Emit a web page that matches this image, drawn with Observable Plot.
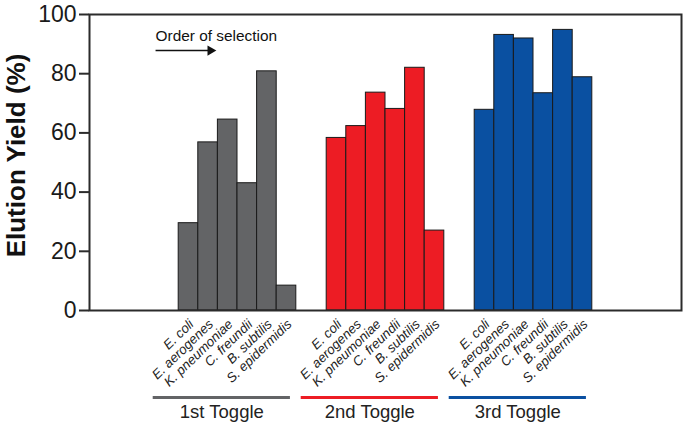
<!DOCTYPE html>
<html>
<head>
<meta charset="utf-8">
<script src="https://cdn.jsdelivr.net/npm/d3@7"></script>
<script src="https://cdn.jsdelivr.net/npm/@observablehq/plot@0.6"></script>
<style>
  html, body { margin: 0; padding: 0; background: #fff; }
  #chart { width: 685px; height: 425px; }
</style>
</head>
<body>
<div id="chart"></div>
<script>
// ---- data ----
const groups = ["1st Toggle", "2nd Toggle", "3rd Toggle"];
const species = ["E. coli", "E. aerogenes", "K. pneumoniae", "C. freundii", "B. subtilis", "S. epidermidis"];
const toggle1 = [29.5, 56.8, 64.5, 43.0, 80.8, 8.4];
const toggle2 = [58.3, 62.3, 73.6, 68.1, 82.0, 27.0];
const toggle3 = [67.8, 93.1, 91.9, 73.4, 94.8, 78.8];
const groupColors = ["#636466", "#ed1c24", "#0a50a1"];
const yTicks = [0, 20, 40, 60, 80, 100];
const annotation = "Order of selection";

// ---- layout helpers (in bar-width units) ----
const groupGap = 1.55;     // gap between groups
const sideGap = 4.55;      // empty space at left/right of frame
const perGroup = species.length;
const groupStart = g => g * (perGroup + groupGap);

const series = [toggle1, toggle2, toggle3];
const bars = [];
series.forEach((vals, g) => vals.forEach((v, i) => bars.push({
  group: groups[g], species: species[i], value: v,
  x1: groupStart(g) + i, x2: groupStart(g) + i + 1, xc: groupStart(g) + i + 0.5
})));
const groupInfo = groups.map((name, g) => ({
  name, x1: groupStart(g) - 1.3, x2: groupStart(g) + 5.7
}));
const xMax = groupStart(groups.length - 1) + perGroup + sideGap;

// arrow annotation in data units
const arrowData = [{x1: -1.18, x2: 1.62, y: 87.8}];

const plot = Plot.plot({
  width: 685,
  height: 425,
  marginLeft: 89,
  marginRight: 4,
  marginTop: 14,
  marginBottom: 115,
  style: {fontFamily: "'Liberation Sans', Arial, sans-serif", color: "#222", background: "#fff"},
  x: {domain: [-sideGap, xMax], axis: null},
  y: {domain: [0, 100], axis: null},
  color: {domain: groups, range: groupColors},
  marks: [
    Plot.rectY(bars, {x1: "x1", x2: "x2", y: "value", fill: "group", stroke: "#1a1a1a", strokeWidth: 1}),
    Plot.frame({stroke: "#2b2b2b", strokeWidth: 2}),
    Plot.axisY({ticks: yTicks, tickSize: 10, tickPadding: 3, fontSize: 23, strokeWidth: 2, stroke: "#2b2b2b", fill: "#1a1a1a", label: null}),
    Plot.text(["Elution Yield (%)"], {frameAnchor: "left", textAnchor: "middle", dx: -73, dy: -7, rotate: -90, fontWeight: "bold", fontSize: 26, fill: "#111"}),
    // species labels
    Plot.text(bars, {x: "xc", y: 0, text: "species", rotate: -44, textAnchor: "end", dx: 3, dy: 11.5, fontSize: 13.3, fontStyle: "italic", fill: "#222"}),
    // group underline + labels
    Plot.ruleY(groupInfo, {y: 0, x1: "x1", x2: "x2", dy: 87, stroke: "name", strokeWidth: 3}),
    Plot.text(groupInfo, {x: d => (d.x1 + d.x2) / 2, y: 0, text: "name", dy: 102, fontSize: 18.5, fill: "#222"}),
    // annotation
    Plot.text([annotation], {x: arrowData[0].x1, y: 92.7, text: d => d, textAnchor: "start", fontSize: 15.4, fill: "#111"}),
    Plot.link(arrowData, {x1: "x1", x2: "x2", y1: "y", y2: "y", stroke: "#111", strokeWidth: 1.5}),
    Plot.dot(arrowData, {x: "x2", y: "y", symbol: "triangle", r: 3.8, rotate: 90, fill: "#111", stroke: "none"})
  ]
});
document.getElementById("chart").appendChild(plot);
</script>
</body>
</html>
